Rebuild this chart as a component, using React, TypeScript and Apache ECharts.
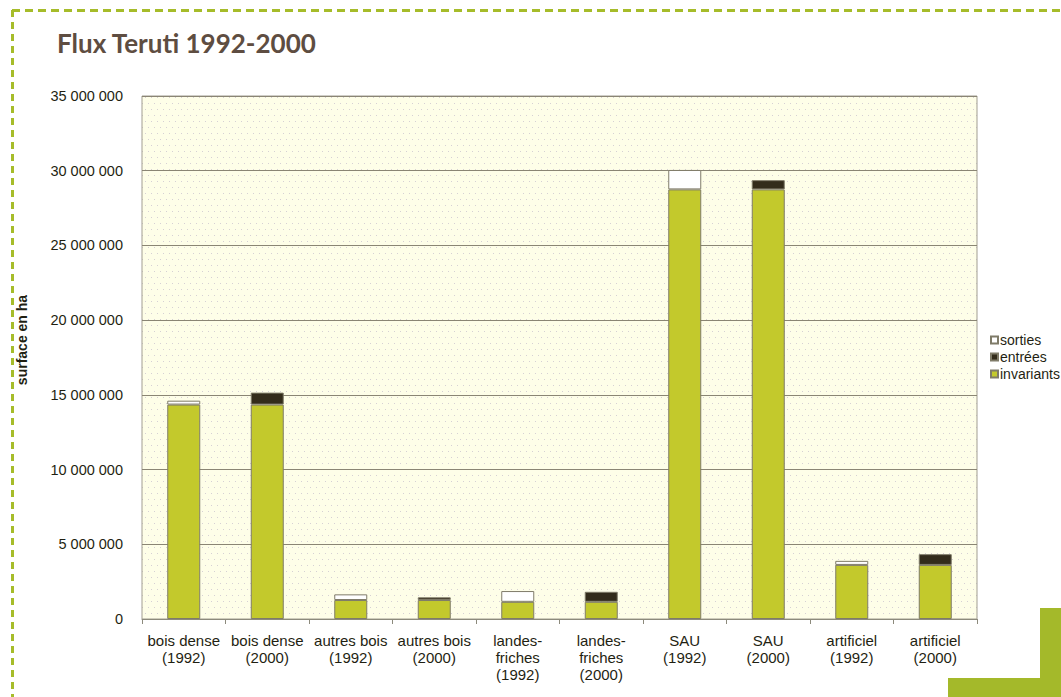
import React, { useEffect, useRef } from "react";
import * as echarts from "echarts";

const categories = [
  "bois dense\n(1992)",
  "bois dense\n(2000)",
  "autres bois\n(1992)",
  "autres bois\n(2000)",
  "landes-\nfriches\n(1992)",
  "landes-\nfriches\n(2000)",
  "SAU\n(1992)",
  "SAU\n(2000)",
  "artificiel\n(1992)",
  "artificiel\n(2000)",
];
const invariants = [14350000, 14350000, 1270000, 1270000, 1150000, 1150000, 28750000, 28750000, 3620000, 3620000];
const entrees = [null, 800000, null, 180000, null, 670000, null, 620000, null, 720000];
const sorties = [260000, null, 380000, null, 720000, null, 1300000, null, 270000, null];
const yTicks = { min: 0, max: 35000000, interval: 5000000 };
const legendOrder = ["sorties", "entrées", "invariants"];

const fmt = (v: number) => String(v).replace(/\B(?=(\d{3})+(?!\d))/g, " ");

export default function App() {
  const ref = useRef<HTMLDivElement>(null);
  useEffect(() => {
    if (!ref.current) return;
    const chart = echarts.init(ref.current, null, { renderer: "svg" });
    const cv = document.createElement("canvas");
    cv.width = 6;
    cv.height = 12;
    const ctx = cv.getContext("2d")!;
    ctx.fillStyle = "#fefee8";
    ctx.fillRect(0, 0, 6, 12);
    ctx.fillStyle = "#d6d0d4";
    ctx.fillRect(1, 1, 1, 1);
    ctx.fillRect(4, 7, 1, 1);
    const pattern: any = { image: cv, repeat: "repeat", imageWidth: 6, imageHeight: 12 };
    const border = "#7f7b68";
    const labelFont = "'Liberation Sans', Arial, sans-serif";
    const textColor = "#1f1f12";
    chart.setOption({
      animation: false,
      grid: {
        left: 142,
        top: 96,
        right: 84,
        bottom: 78,
        show: true,
        backgroundColor: pattern,
        borderColor: "#a19d90",
        borderWidth: 1,
        outerBoundsMode: "none",
      },
      legend: {
        data: legendOrder,
        orient: "vertical",
        left: 985,
        top: 328,
        itemWidth: 7,
        itemHeight: 7,
        itemGap: 3,
        icon: "rect",
        textStyle: { fontFamily: labelFont, fontSize: 14, color: textColor, padding: [0, 0, 0, -3] },
      },
      xAxis: {
        type: "category",
        data: categories,
        axisLine: { show: true, lineStyle: { color: "#8c8a7c" } },
        axisTick: { show: true, alignWithLabel: false, length: 5, lineStyle: { color: "#8c8a7c" } },
        axisLabel: {
          interval: 0,
          margin: 13,
          fontFamily: labelFont,
          fontSize: 15,
          lineHeight: 17,
          color: textColor,
        },
      },
      yAxis: {
        type: "value",
        min: yTicks.min,
        max: yTicks.max,
        interval: yTicks.interval,
        axisLine: { show: false },
        axisTick: { show: false },
        splitLine: { show: true, lineStyle: { color: "#8a8574", width: 1 } },
        axisLabel: {
          margin: 19,
          fontFamily: labelFont,
          fontSize: 14.5,
          color: textColor,
          formatter: (v: number) => fmt(v),
        },
      },
      series: [
        {
          name: "invariants",
          type: "bar",
          stack: "a",
          barWidth: 33,
          data: invariants,
          itemStyle: { color: "#c3c92c", borderColor: border, borderWidth: 1 },
        },
        {
          name: "entrées",
          type: "bar",
          stack: "a",
          barWidth: 33,
          data: entrees,
          itemStyle: { color: "#332c1b", borderColor: border, borderWidth: 1 },
        },
        {
          name: "sorties",
          type: "bar",
          stack: "a",
          barWidth: 33,
          data: sorties,
          itemStyle: { color: "#ffffff", borderColor: border, borderWidth: 1 },
        },
      ],
      graphic: [
        {
          type: "line",
          shape: { x1: 12, y1: 10.5, x2: 1061, y2: 10.5 },
          style: { stroke: "#a6bc2a", lineWidth: 3, lineDash: [8, 5] },
        },
        {
          type: "line",
          shape: { x1: 12.5, y1: 10, x2: 12.5, y2: 697 },
          style: { stroke: "#a6bc2a", lineWidth: 3, lineDash: [7, 5] },
        },
        {
          type: "rect",
          shape: { x: 1040, y: 608, width: 21, height: 89 },
          style: { fill: "#a4b92a" },
        },
        {
          type: "rect",
          shape: { x: 948, y: 678, width: 113, height: 19 },
          style: { fill: "#a4b92a" },
        },
        {
          type: "text",
          x: 57,
          y: 43,
          style: {
            text: "Flux Teruti 1992-2000",
            font: "bold 26px Lato, 'Open Sans', sans-serif",
            fill: "#5e4d41",
            verticalAlign: "middle",
            align: "left",
          },
        },
        {
          type: "text",
          x: 22,
          y: 340,
          rotation: Math.PI / 2,
          style: {
            text: "surface en ha",
            font: "bold 14px 'Liberation Sans', Arial, sans-serif",
            fill: textColor,
            verticalAlign: "middle",
            align: "center",
          },
        },
      ],
    });
    return () => chart.dispose();
  }, []);
  return (
    <div
      ref={ref}
      style={{ position: "absolute", left: 0, top: 0, width: 1061, height: 697, background: "#fff" }}
    />
  );
}
